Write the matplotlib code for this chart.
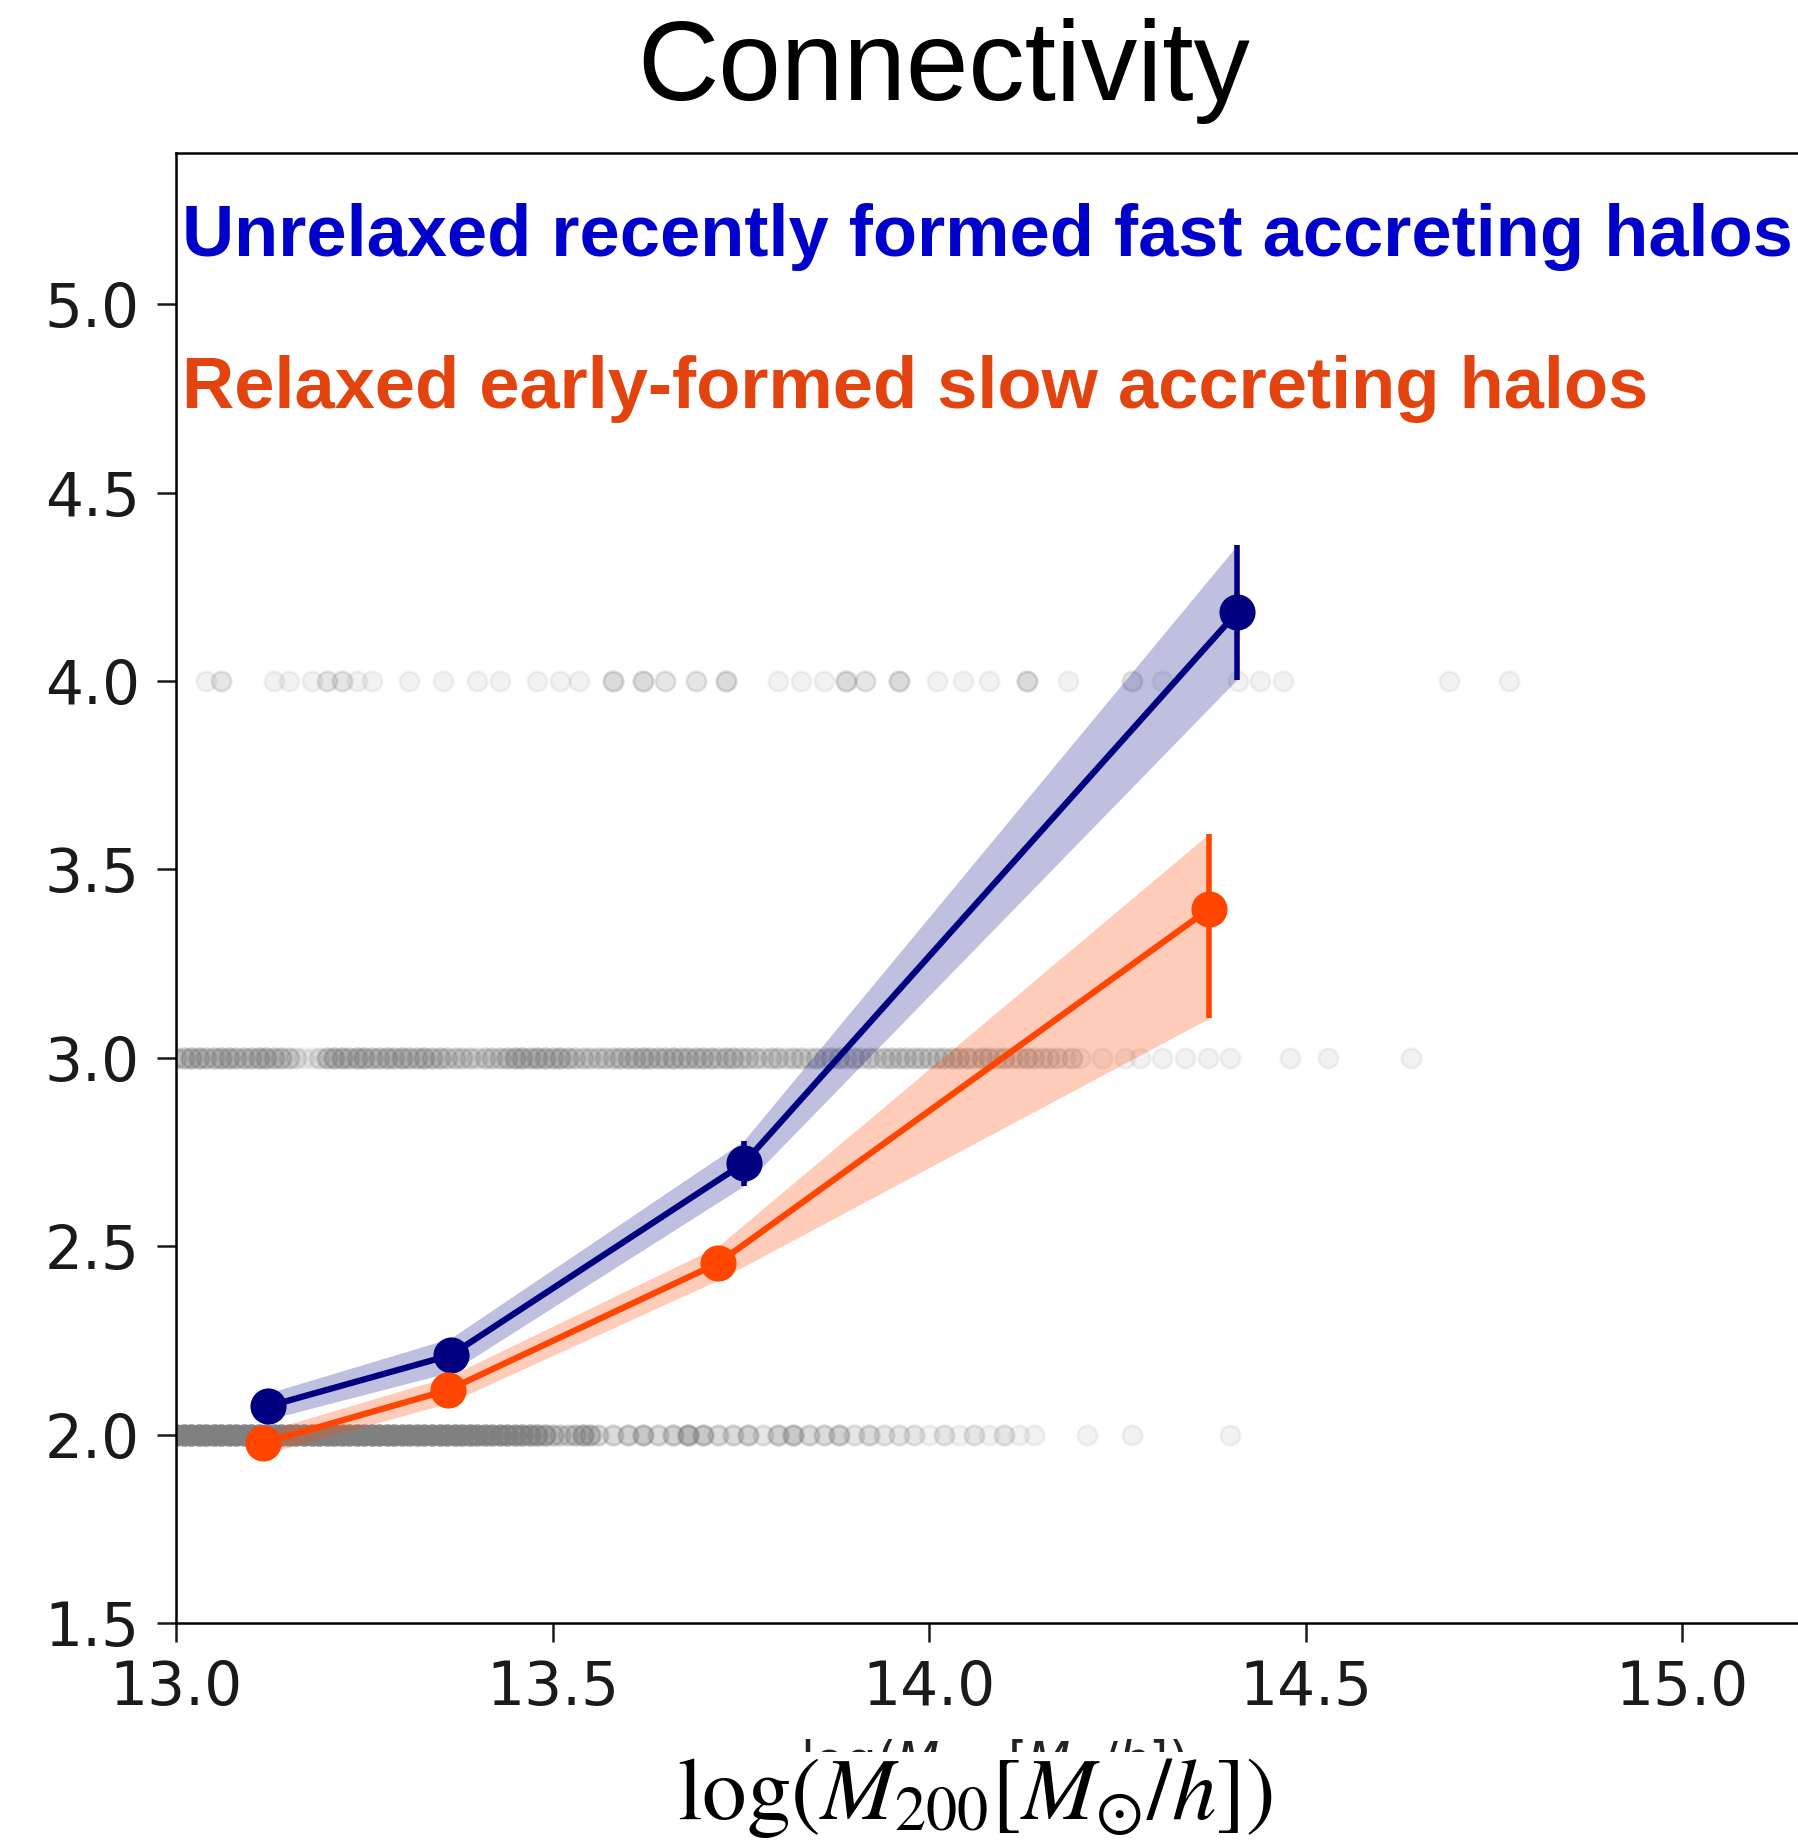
import numpy as np
import matplotlib.pyplot as plt
from matplotlib.patches import Rectangle

plt.rcParams['mathtext.fontset'] = 'stix'

# mean connectivity per mass bin
mass_fast = [13.122, 13.365, 13.754, 14.409]
kappa_fast = [2.075, 2.211, 2.720, 4.182]
err_fast = [0.035, 0.045, 0.060, 0.178]

mass_slow = [13.116, 13.361, 13.720, 14.372]
kappa_slow = [1.978, 2.118, 2.455, 3.395]
err_slow_lo = [0.030, 0.035, 0.045, 0.290]
err_slow_hi = [0.030, 0.035, 0.045, 0.200]

# individual halos (log mass, number of halos at that mass) for kappa = 2, 3, 4
k2_mass = [13.00, 13.01, 13.02, 13.03, 13.04, 13.05, 13.06, 13.07, 13.08, 13.09,
           13.10, 13.11, 13.12, 13.13, 13.14, 13.15, 13.16, 13.17, 13.18, 13.19,
           13.20, 13.21, 13.22, 13.23, 13.24, 13.25, 13.26, 13.27, 13.28, 13.29,
           13.30, 13.31, 13.32, 13.33, 13.34, 13.35, 13.36, 13.37, 13.38, 13.39,
           13.40, 13.41, 13.42, 13.43, 13.44, 13.45, 13.46, 13.47, 13.48, 13.49,
           13.50, 13.51, 13.52, 13.53, 13.54, 13.55, 13.56,
           13.58, 13.60, 13.62, 13.64, 13.66, 13.68, 13.70, 13.72, 13.74, 13.76,
           13.78, 13.80, 13.82, 13.84, 13.86, 13.88, 13.90, 13.92, 13.94, 13.96,
           13.98, 14.00, 14.02, 14.04, 14.06, 14.08, 14.10, 14.12, 14.14,
           14.21, 14.27, 14.40]
k2_count = [15, 15, 15, 15, 15, 15, 15, 15, 15, 15,
            15, 15, 15, 15, 15, 15, 15, 15, 15, 15,
            14, 14, 14, 14, 14, 14, 14, 14, 14, 14,
            13, 13, 13, 13, 13, 13, 13, 13, 13, 13,
            11, 11, 10, 10, 10, 9, 9, 8, 8, 7,
            4, 3, 3, 4, 6, 5, 3,
            3, 4, 5, 3, 4, 7, 5, 3, 3, 4,
            2, 4, 5, 3, 3, 4, 2, 3, 2, 2,
            2, 1, 2, 1, 2, 1, 2, 1, 1,
            1, 1, 1]

k3_mass = [13.00, 13.01, 13.02, 13.03, 13.04, 13.05, 13.06, 13.07, 13.08, 13.09,
           13.10, 13.11, 13.12, 13.13, 13.14, 13.15, 13.16, 13.17, 13.18, 13.19,
           13.20, 13.21, 13.22, 13.23, 13.24, 13.25, 13.26, 13.27, 13.28, 13.29,
           13.30, 13.31, 13.32, 13.33, 13.34, 13.35, 13.36, 13.37, 13.38, 13.39,
           13.40, 13.41, 13.42, 13.43, 13.44, 13.45, 13.46, 13.47, 13.48, 13.49,
           13.50, 13.51, 13.52, 13.53, 13.54, 13.55, 13.56, 13.57, 13.58, 13.59,
           13.60, 13.61, 13.62, 13.63, 13.64, 13.65, 13.66, 13.67, 13.68, 13.69,
           13.70, 13.71, 13.72, 13.73, 13.74, 13.75, 13.76, 13.77, 13.78, 13.79,
           13.80, 13.81, 13.82, 13.83, 13.84, 13.85, 13.86, 13.87, 13.88, 13.89,
           13.90, 13.91, 13.92, 13.93, 13.94, 13.95, 13.96, 13.97, 13.98, 13.99,
           14.00, 14.01, 14.02, 14.03, 14.04, 14.05, 14.06, 14.07, 14.08, 14.09,
           14.10, 14.11, 14.12, 14.13, 14.14, 14.15, 14.16, 14.17, 14.18, 14.19,
           14.20, 14.23, 14.26, 14.28, 14.31, 14.34, 14.37, 14.40, 14.48, 14.53,
           14.64]
k3_count = [3, 4, 5, 5, 4, 4, 5, 5, 4, 4,
            4, 5, 5, 4, 4, 3, 2, 1, 1, 2,
            4, 5, 5, 4, 5, 5, 4, 4, 5, 4,
            5, 4, 4, 5, 4, 4, 3, 3, 3, 3,
            2, 3, 3, 3, 4, 5, 5, 4, 5, 5,
            4, 5, 4, 3, 3, 3, 3, 3, 3, 4,
            4, 4, 5, 4, 4, 4, 5, 4, 4, 4,
            4, 4, 3, 4, 4, 3, 3, 3, 2, 3,
            3, 2, 3, 3, 2, 3, 2, 3, 3, 2,
            3, 2, 3, 2, 3, 3, 3, 3, 3, 3,
            3, 3, 3, 3, 3, 3, 2, 3, 3, 2,
            3, 2, 2, 3, 2, 2, 2, 2, 1, 2,
            1, 1, 1, 1, 1, 1, 1, 1, 1, 1,
            1]

k4_mass = [13.04, 13.06, 13.13, 13.15, 13.18, 13.20, 13.22, 13.24, 13.26, 13.31,
           13.355, 13.40, 13.43, 13.48, 13.51, 13.535, 13.58, 13.62, 13.65, 13.69,
           13.73, 13.80, 13.83, 13.86, 13.89, 13.915, 13.96, 14.01, 14.045, 14.08,
           14.13, 14.185, 14.27, 14.31, 14.41, 14.44, 14.47, 14.69, 14.77]
k4_count = [1, 2, 1, 1, 1, 2, 2, 1, 1, 1,
            1, 1, 1, 1, 1, 1, 3, 3, 2, 2,
            3, 1, 1, 1, 3, 2, 3, 1, 1, 1,
            3, 1, 2, 1, 1, 1, 1, 1, 1]

W, H = 1799, 1842
fig = plt.figure(figsize=(W / 100, H / 100), dpi=100)
ax = fig.add_axes([176 / W, 219 / H, 1 - 176 / W, 1469.5 / H])

for m, c, k in [(k2_mass, k2_count, 2), (k3_mass, k3_count, 3), (k4_mass, k4_count, 4)]:
    xs = np.repeat(m, c)
    ax.plot(xs, np.full(len(xs), k), 'o', color='gray', alpha=0.1,
            ms=14, mew=2, zorder=1)

lo = np.array(kappa_fast) - np.array(err_fast)
hi = np.array(kappa_fast) + np.array(err_fast)
ax.fill_between(mass_fast, lo, hi, color='navy', alpha=0.25, lw=0, zorder=2)
ax.errorbar(mass_fast, kappa_fast, yerr=err_fast, fmt='-o', color='navy',
            ms=25, lw=4.5, elinewidth=4, capsize=0, zorder=3)

lo = np.array(kappa_slow) - np.array(err_slow_lo)
hi = np.array(kappa_slow) + np.array(err_slow_hi)
ax.fill_between(mass_slow, lo, hi, color='orangered', alpha=0.27, lw=0, zorder=2)
ax.errorbar(mass_slow, kappa_slow, yerr=[err_slow_lo, err_slow_hi], fmt='-o',
            color='orangered', ms=25, lw=4.5, elinewidth=4, capsize=0, zorder=3)

ax.set_xlim(13.0, 13.0 + 1623 / 753)
ax.set_ylim(1.5, 5.4)
ax.set_xticks([13.0, 13.5, 14.0, 14.5, 15.0])
ax.set_xticklabels(['13.0', '13.5', '14.0', '14.5', '15.0'])
ax.set_yticks([1.5, 2.0, 2.5, 3.0, 3.5, 4.0, 4.5, 5.0])
ax.set_yticklabels(['1.5', '2.0', '2.5', '3.0', '3.5', '4.0', '4.5', '5.0'])
ax.tick_params(length=14, width=1.8, pad=12, labelsize=43, colors='#1a1a1a')
ax.spines['right'].set_visible(False)
for s in ['left', 'top', 'bottom']:
    ax.spines[s].set_linewidth(1.8)

fig.text(0.5245, 1 - 100 / H, 'Connectivity', ha='center', va='baseline',
         fontsize=81, family='Liberation Sans')
fig.text(182 / W, 1 - 256 / H, 'Unrelaxed recently formed fast accreting halos',
         ha='left', va='baseline', fontsize=52, fontweight='bold',
         family='Liberation Sans', color='#0000cc')
fig.text(182 / W, 1 - 408 / H, 'Relaxed early-formed slow accreting halos',
         ha='left', va='baseline', fontsize=52, fontweight='bold',
         family='Liberation Sans', color='#e2430f')

# small label underneath, mostly hidden by the white strip
fig.text(0.552, 1 - 1737 / H, r'$\log(M_{200}[M_{\odot}/h])$', ha='center',
         va='top', fontsize=36, math_fontfamily='dejavusans', color='#222222',
         zorder=0.5)
fig.patches.append(Rectangle((0, 0), 1, 1 - 1752 / H, transform=fig.transFigure,
                             facecolor='white', edgecolor='none', zorder=1))
fig.text(0.542, 1 - 1819 / H, r'$\mathrm{log}(M_{200}[M_{\odot}/h])$',
         ha='center', va='baseline', fontsize=64, zorder=3)

fig.savefig('out.png', dpi=100)
